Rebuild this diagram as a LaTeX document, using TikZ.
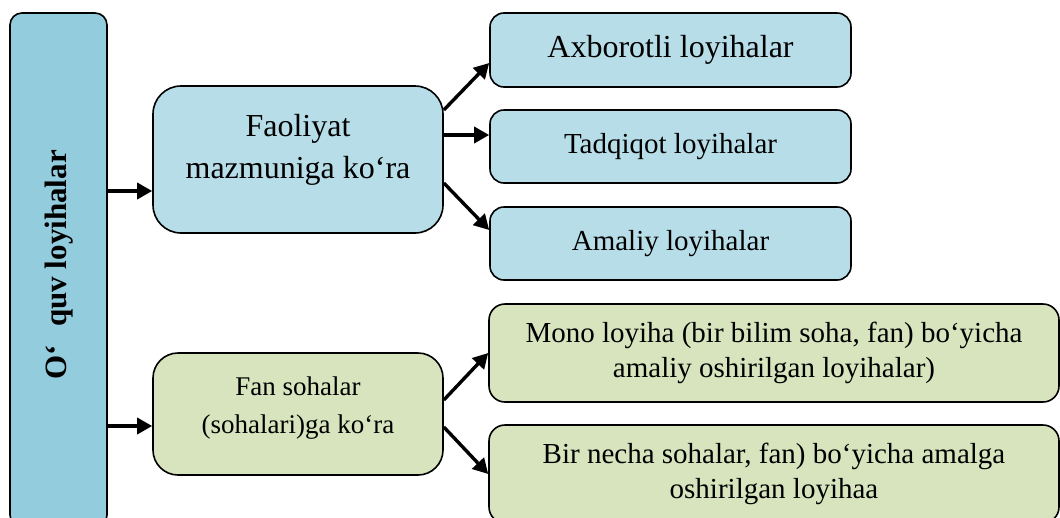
\documentclass[tikz,border=0pt]{standalone}
\usepackage{fontspec}
\setmainfont{Liberation Serif}
\usetikzlibrary{arrows.meta,positioning}

\definecolor{rootblue}{HTML}{93CDDD}
\definecolor{lightblue}{HTML}{B7DEE8}
\definecolor{lightgreen}{HTML}{D7E4BD}

\begin{document}
\begin{tikzpicture}[x=1pt, y=-1pt,
    box/.style={draw=black, line width=1.6pt, rounded corners=14pt, inner sep=0pt, align=center},
    bluebox/.style={box, fill=lightblue},
    greenbox/.style={box, fill=lightgreen},
    arr/.style={line width=3.4pt, -{Triangle[length=15pt, width=16pt]}}]
    \useasboundingbox (0,0) rectangle (1060,517);
    \clip (0,0) rectangle (1060,517);

    % Left box
    \node[box, fill=rootblue, rounded corners=12pt, minimum width=97pt, minimum height=514pt] (root) at (58.5,270) {};
    \node[rotate=90, font=\fontsize{31}{34}\selectfont\bfseries] (roottxt) at (59,265) {O‘\hspace{0.6em}quv loyihalar};

    % Middle boxes
    \node[bluebox, rounded corners=28pt, minimum width=290pt, minimum height=147pt] (faol) at (298,159.5) {};
    \node[align=center, font=\fontsize{32}{42}\selectfont] (faoltxt) at (298,150) {Faoliyat\\mazmuniga ko‘ra};
    \node[greenbox, rounded corners=25pt, minimum width=290pt, minimum height=122pt] (fan) at (298,414) {};
    \node[align=center, font=\fontsize{27}{38}\selectfont] (fantxt) at (298,408) {Fan sohalar\\(sohalari)ga ko‘ra};

    % Right boxes
    \node[bluebox, minimum width=361pt, minimum height=74pt, font=\fontsize{32}{36}\selectfont] (axb) at (670.5,50) {Axborotli loyihalar};
    \node[bluebox, minimum width=361pt, minimum height=73pt, font=\fontsize{29}{34}\selectfont] (tadq) at (670.5,146.5) {Tadqiqot loyihalar};
    \node[bluebox, minimum width=361pt, minimum height=73pt, font=\fontsize{29}{34}\selectfont] (amal) at (670.5,243.5) {Amaliy loyihalar};
    \node[greenbox, rounded corners=16pt, minimum width=570pt, minimum height=98pt, font=\fontsize{29}{35}\selectfont] (mono) at (774,353) {Mono loyiha (bir bilim soha, fan) bo‘yicha\\amaliy oshirilgan loyihalar)};
    \node[greenbox, rounded corners=16pt, minimum width=570pt, minimum height=98pt, font=\fontsize{29}{35}\selectfont] (bir) at (774,474) {Bir necha sohalar, fan) bo‘yicha amalga\\oshirilgan loyihaa};

    % Arrows from the left box
    \coordinate (f1) at ([yshift=-31.5pt]faol.west);
    \coordinate (f2) at ([yshift=-12pt]fan.west);
    \draw[arr] (f1 -| root.east) -- (f1);
    \draw[arr] (f2 -| root.east) -- (f2);

    % Arrows to the right boxes
    \draw[arr] ([yshift=49.5pt]faol.east) -- ([yshift=-13pt]axb.west);
    \draw[arr] ([yshift=24.5pt]faol.east) -- ([yshift=11.5pt]tadq.west);
    \draw[arr] ([yshift=-23.5pt]faol.east) -- ([yshift=13.5pt]amal.west);
    \draw[arr] ([yshift=14pt]fan.east) -- (mono.west);
    \draw[arr] ([yshift=-13pt]fan.east) -- (bir.west);
\end{tikzpicture}
\end{document}
